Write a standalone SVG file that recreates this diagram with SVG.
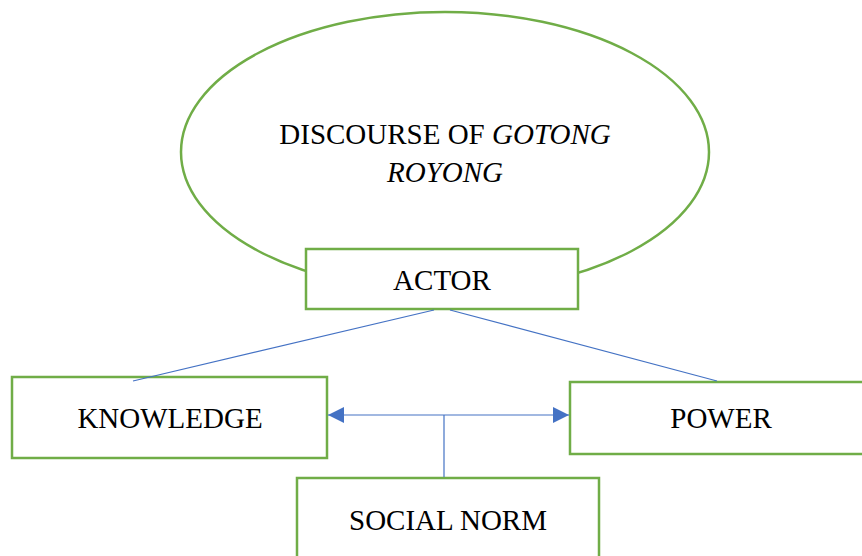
<svg xmlns="http://www.w3.org/2000/svg" width="862" height="556" viewBox="0 0 862 556">
<style>
.node{fill:#fff;stroke:#70AD47;stroke-width:2.5}
.lbl{font-family:"Liberation Serif","Times New Roman",serif;font-size:29px;fill:#000;text-anchor:middle}
.con{stroke:#4472C4;stroke-width:1.2;fill:none}
</style>
<defs>
<marker id="ah" markerUnits="userSpaceOnUse" markerWidth="16" markerHeight="16" viewBox="0 0 16 16" refX="16" refY="8" orient="auto-start-reverse">
<path d="M0,0 L16,8 L0,16 Z" fill="#4472C4"/>
</marker>
</defs>
<rect width="862" height="556" fill="#fff"/>
<g id="discourse">
<ellipse class="node" cx="445" cy="152" rx="264" ry="140"/>
<text class="lbl" x="445" y="144">DISCOURSE OF <tspan font-style="italic">GOTONG</tspan></text>
<text class="lbl" x="445" y="182" font-style="italic">ROYONG</text>
</g>
<g id="actor">
<rect class="node" x="306" y="249" width="272" height="60"/>
<text class="lbl" x="442" y="290">ACTOR</text>
</g>
<g id="knowledge">
<rect class="node" x="12" y="377" width="315" height="81"/>
<text class="lbl" x="170" y="428">KNOWLEDGE</text>
</g>
<g id="power">
<rect class="node" x="570" y="382" width="300" height="72"/>
<text class="lbl" x="721" y="428">POWER</text>
</g>
<g id="socialnorm">
<rect class="node" x="297" y="478" width="302" height="90"/>
<text class="lbl" x="448" y="530">SOCIAL NORM</text>
</g>
<g id="connectors">
<line class="con" x1="434" y1="310" x2="133" y2="381"/>
<line class="con" x1="450" y1="310" x2="717" y2="381"/>
<line class="con" x1="328" y1="415" x2="569" y2="415" marker-start="url(#ah)" marker-end="url(#ah)"/>
<line class="con" x1="444" y1="415" x2="444" y2="477"/>
</g>
</svg>
